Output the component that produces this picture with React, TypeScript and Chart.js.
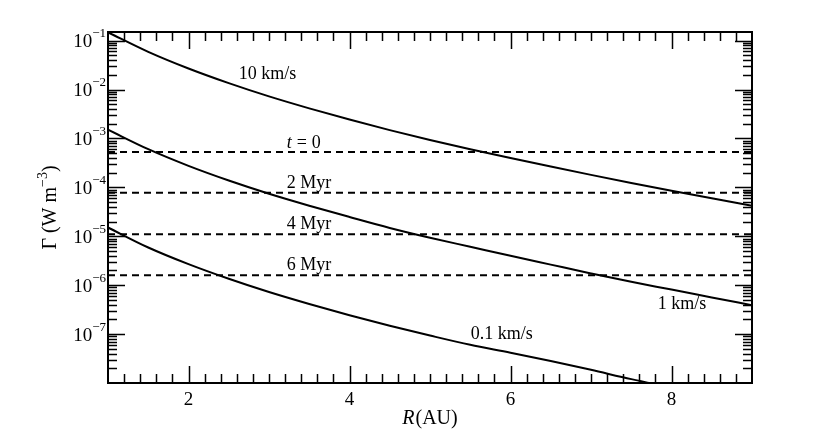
import React, { useEffect, useRef } from "react";
import { Chart, registerables } from "chart.js";

Chart.register(...registerables);

// ---- data ----
const radiusAU = [1, 1.5, 2, 2.5, 3, 3.5, 4, 4.5, 5, 5.5, 6, 6.5, 7, 7.5, 8, 8.5, 9];
const gamma10kms = [
  1.48e-1, 5.89e-2, 2.69e-2, 1.35e-2, 7.24e-3, 4.12e-3, 2.43e-3, 1.48e-3, 9.33e-4,
  6.03e-4, 3.98e-4, 2.66e-4, 1.8e-4, 1.23e-4, 8.51e-5, 5.96e-5, 4.22e-5,
];
const gamma1kms = [
  1.51e-3, 6.03e-4, 2.75e-4, 1.38e-4, 7.41e-5, 4.22e-5, 2.48e-5, 1.48e-5, 9.33e-6,
  6.1e-6, 3.98e-6, 2.63e-6, 1.74e-6, 1.17e-6, 8.13e-7, 5.62e-7, 3.89e-7,
];
const radiusAU01 = [1, 1.5, 2, 2.5, 3, 3.5, 4, 4.5, 5, 5.5, 6, 6.5, 7, 7.5, 8];
const gamma01kms = [
  1.51e-5, 5.89e-6, 2.69e-6, 1.35e-6, 7.24e-7, 4.12e-7, 2.43e-7, 1.48e-7, 9.33e-8,
  6.03e-8, 4.17e-8, 2.82e-8, 1.86e-8, 1.2e-8, 8.13e-9,
];
const epochGamma = [5.3e-4, 7.8e-5, 1.1e-5, 1.6e-6];
const epochLabels = ["t", "2 Myr", "4 Myr", "6 Myr"];
const epochLabelR = 3.22;
const epochLabelGamma = [8.0e-4, 1.22e-4, 1.78e-5, 2.6e-6];
const curveLabels = ["10 km/s", "1 km/s", "0.1 km/s"];
const curveLabelR = [2.98, 8.13, 5.89];
const curveLabelGamma = [2.05e-2, 4.15e-7, 9.7e-8];
const xMajorTicks = [2, 4, 6, 8];
const yMajorExponents = [-1, -2, -3, -4, -5, -6, -7];
const xRange = [1, 9];
const yRange = [1e-8, 0.15];

const SERIF = '"Liberation Serif", "Times New Roman", serif';

const framePlugin = {
  id: "frame",
  afterDraw(chart: any) {
    const { ctx, chartArea: a, scales } = chart;
    const xs = scales.x;
    const ys = scales.y;
    ctx.save();
    ctx.strokeStyle = "#000";
    ctx.fillStyle = "#000";

    const MAJ = 17;
    const MIN = 9;
    ctx.lineWidth = 1.5;
    ctx.beginPath();
    // x ticks (bottom + top)
    for (let i = 6; i <= 44; i++) {
      const v = i / 5;
      const major = xMajorTicks.some((m) => Math.abs(m - v) < 1e-9);
      const len = major ? MAJ : MIN;
      const px = Math.round(xs.getPixelForValue(v)) + 0.5;
      ctx.moveTo(px, a.bottom);
      ctx.lineTo(px, a.bottom - len);
      ctx.moveTo(px, a.top);
      ctx.lineTo(px, a.top + len);
    }
    // y ticks (left + right)
    for (let e = -8; e <= -1; e++) {
      for (let k = 1; k <= 9; k++) {
        const v = k * Math.pow(10, e);
        if (v <= yRange[0] * 1.0001 || v >= yRange[1]) continue;
        const len = k === 1 ? MAJ : MIN;
        const py = Math.round(ys.getPixelForValue(v)) + 0.5;
        ctx.moveTo(a.left, py);
        ctx.lineTo(a.left + len, py);
        ctx.moveTo(a.right, py);
        ctx.lineTo(a.right - len, py);
      }
    }
    ctx.stroke();

    // frame
    ctx.lineWidth = 2;
    ctx.strokeRect(a.left, a.top, a.right - a.left, a.bottom - a.top);

    // x tick labels
    ctx.font = `19px ${SERIF}`;
    ctx.textAlign = "center";
    ctx.textBaseline = "middle";
    for (const v of xMajorTicks) {
      ctx.fillText(String(v), xs.getPixelForValue(v), a.bottom + 17);
    }

    // y tick labels 10^-n
    for (const e of yMajorExponents) {
      const py = ys.getPixelForValue(Math.pow(10, e));
      const sup = "\u2212" + Math.abs(e);
      ctx.font = `13px ${SERIF}`;
      const wSup = ctx.measureText(sup).width;
      ctx.font = `19px ${SERIF}`;
      const wBase = ctx.measureText("10").width;
      const right = a.left - 2;
      ctx.textAlign = "left";
      ctx.fillText("10", right - wSup - wBase, py + 1.5);
      ctx.font = `13px ${SERIF}`;
      ctx.fillText(sup, right - wSup, py - 7);
    }

    // x title: R(AU)
    {
      const cx = (a.left + a.right) / 2;
      const cy = a.bottom + 36;
      ctx.font = `italic 20px ${SERIF}`;
      const wR = ctx.measureText("R").width;
      ctx.font = `20px ${SERIF}`;
      const wRest = ctx.measureText("(AU)").width;
      const x0 = cx - (wR + 1 + wRest) / 2;
      ctx.textAlign = "left";
      ctx.font = `italic 20px ${SERIF}`;
      ctx.fillText("R", x0, cy);
      ctx.font = `20px ${SERIF}`;
      ctx.fillText("(AU)", x0 + wR + 1, cy);
    }

    // y title: Γ (W m^-3)
    {
      ctx.save();
      ctx.translate(51, (a.top + a.bottom) / 2);
      ctx.rotate(-Math.PI / 2);
      const main = "\u0393 (W m";
      const sup = "\u22123";
      const close = ")";
      ctx.font = `20px ${SERIF}`;
      const wMain = ctx.measureText(main).width;
      const wClose = ctx.measureText(close).width;
      ctx.font = `14px ${SERIF}`;
      const wSup = ctx.measureText(sup).width;
      const total = wMain + wSup + wClose;
      let x = -total / 2;
      ctx.textAlign = "left";
      ctx.textBaseline = "middle";
      ctx.font = `20px ${SERIF}`;
      ctx.fillText(main, x, 0);
      x += wMain;
      ctx.font = `14px ${SERIF}`;
      ctx.fillText(sup, x, -8);
      x += wSup;
      ctx.font = `20px ${SERIF}`;
      ctx.fillText(close, x, 0);
      ctx.restore();
    }

    // curve labels
    ctx.font = `18px ${SERIF}`;
    ctx.textAlign = "center";
    ctx.textBaseline = "middle";
    curveLabels.forEach((t, i) => {
      ctx.fillText(t, xs.getPixelForValue(curveLabelR[i]), ys.getPixelForValue(curveLabelGamma[i]));
    });

    // epoch labels
    ctx.textAlign = "left";
    epochLabels.forEach((t, i) => {
      const px = xs.getPixelForValue(epochLabelR);
      const py = ys.getPixelForValue(epochLabelGamma[i]);
      if (i === 0) {
        ctx.font = `italic 18px ${SERIF}`;
        ctx.fillText("t", px, py);
        const wt = ctx.measureText("t").width;
        ctx.font = `18px ${SERIF}`;
        ctx.fillText("=", px + wt + 5, py);
        const we = ctx.measureText("=").width;
        ctx.fillText("0", px + wt + 5 + we + 5, py);
      } else {
        ctx.font = `18px ${SERIF}`;
        ctx.fillText(t, px, py);
      }
    });

    ctx.restore();
  },
};

export default function App() {
  const canvasRef = useRef<HTMLCanvasElement | null>(null);

  useEffect(() => {
    if (!canvasRef.current) return;
    const solid = (xsArr: number[], ysArr: number[]) => ({
      data: xsArr.map((x, i) => ({ x, y: ysArr[i] })),
      borderColor: "#000",
      borderWidth: 2,
      pointRadius: 0,
      fill: false,
      tension: 0.4,
      cubicInterpolationMode: "monotone" as const,
    });
    const dashed = (g: number) => ({
      data: [
        { x: xRange[0], y: g },
        { x: xRange[1], y: g },
      ],
      borderColor: "#000",
      borderWidth: 2,
      borderDash: [7, 5],
      pointRadius: 0,
      fill: false,
    });
    const chart = new Chart(canvasRef.current, {
      type: "line",
      data: {
        datasets: [
          solid(radiusAU, gamma10kms),
          solid(radiusAU, gamma1kms),
          solid(radiusAU01, gamma01kms),
          ...epochGamma.map(dashed),
        ] as any,
      },
      options: {
        responsive: true,
        maintainAspectRatio: false,
        animation: false,
        layout: { padding: { left: 108, right: 78, top: 32, bottom: 48 } },
        scales: {
          x: { type: "linear", min: xRange[0], max: xRange[1], display: false },
          y: { type: "logarithmic", min: yRange[0], max: yRange[1], display: false },
        },
        plugins: { legend: { display: false }, tooltip: { enabled: false } },
      },
      plugins: [framePlugin],
    });
    return () => chart.destroy();
  }, []);

  return (
    <div style={{ position: "fixed", left: 0, top: 0, width: 830, height: 431, background: "#fff" }}>
      <canvas ref={canvasRef} />
    </div>
  );
}
